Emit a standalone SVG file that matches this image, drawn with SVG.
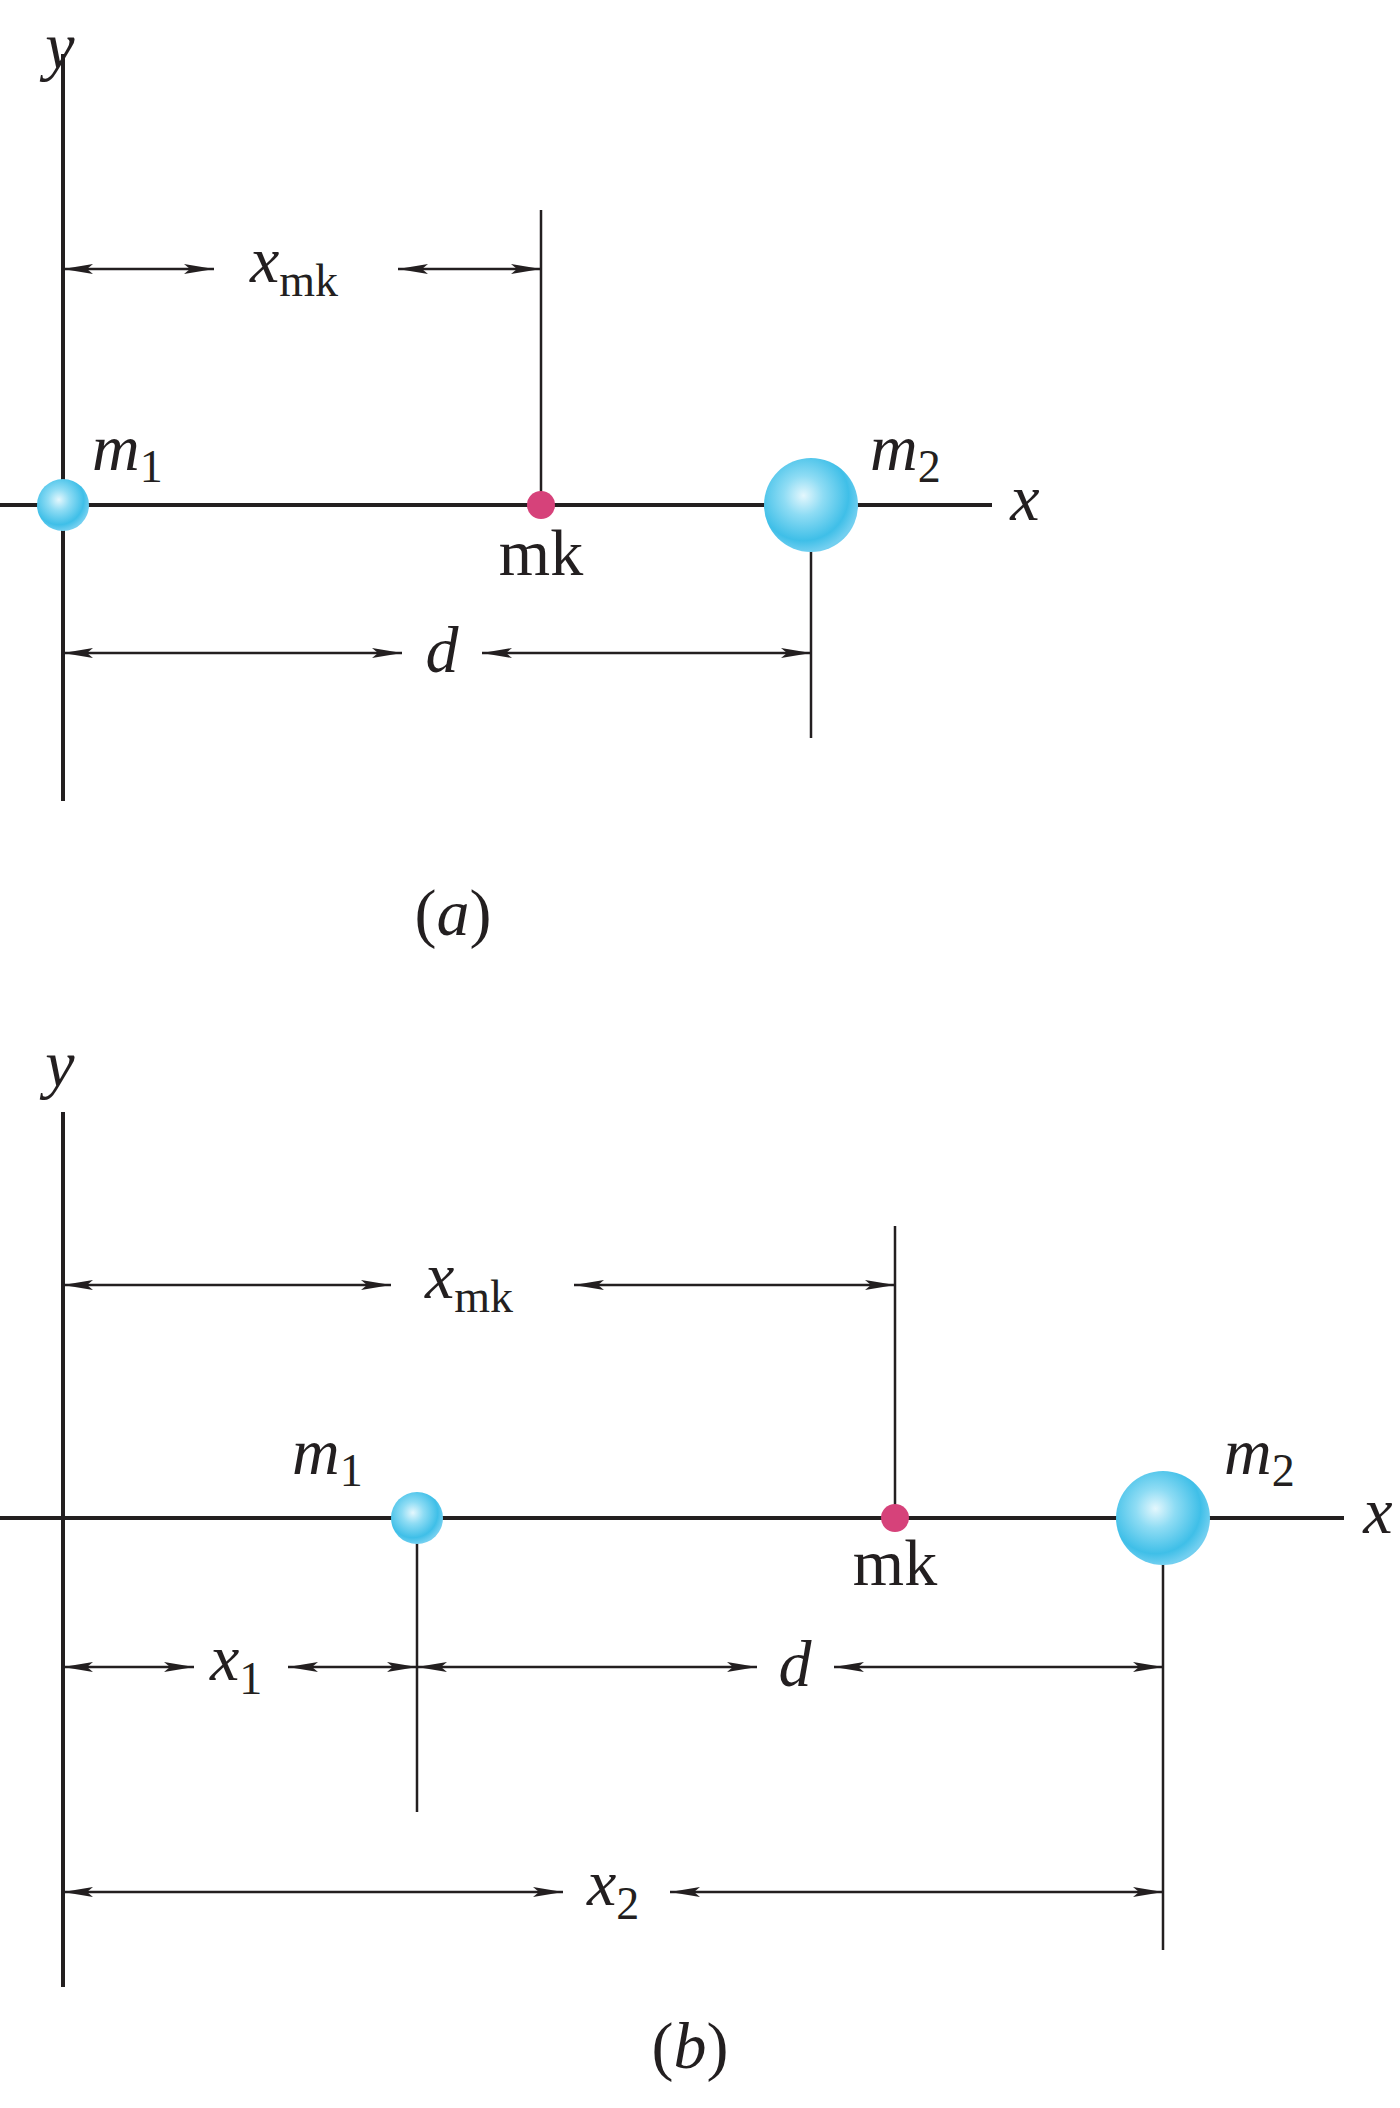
<svg xmlns="http://www.w3.org/2000/svg" width="1400" height="2108" viewBox="0 0 1400 2108">
<style>
.ax{stroke:#231f20;stroke-width:4;fill:none}
.th{stroke:#231f20;stroke-width:2.5;fill:none}
.dim{stroke:#231f20;stroke-width:2.5;fill:none;marker-start:url(#ah);marker-end:url(#ah)}
.t{font-family:"Liberation Serif",serif;font-size:66px;fill:#231f20}
.i{font-style:italic}
.s{font-size:46px;font-style:normal}
.dot{fill:#d6427a}
.sph{fill:url(#g)}
</style>
<defs>
<radialGradient id="g" cx="0.42" cy="0.4" r="0.6">
<stop offset="0" stop-color="#e4f7fd"/>
<stop offset="0.35" stop-color="#8edcf4"/>
<stop offset="0.8" stop-color="#3fbfe8"/>
<stop offset="1" stop-color="#72cff0"/>
</radialGradient>
<marker id="ah" viewBox="0 0 30 10" refX="30" refY="5" markerWidth="30" markerHeight="10" markerUnits="userSpaceOnUse" orient="auto-start-reverse">
<path d="M0,0 L30,5 L0,10 L6,5 Z" fill="#231f20"/>
</marker>
</defs>
<g id="connectors">
<line class="ax" x1="63" y1="54" x2="63" y2="801"/>
<line class="ax" x1="0" y1="505" x2="992" y2="505"/>
<line class="th" x1="541" y1="210" x2="541" y2="505"/>
<line class="th" x1="811" y1="505" x2="811" y2="738"/>
<path class="dim" d="M63,269 H214"/><path class="dim" d="M398,269 H541"/>
<path class="dim" d="M63,653 H402"/><path class="dim" d="M482,653 H811"/>
<line class="ax" x1="63" y1="1112" x2="63" y2="1987"/>
<line class="ax" x1="0" y1="1518" x2="1344" y2="1518"/>
<line class="th" x1="895" y1="1226" x2="895" y2="1518"/>
<line class="th" x1="417" y1="1518" x2="417" y2="1812"/>
<line class="th" x1="1163" y1="1518" x2="1163" y2="1950"/>
<path class="dim" d="M63,1285 H391"/><path class="dim" d="M574,1285 H895"/>
<path class="dim" d="M63,1667 H194"/><path class="dim" d="M288,1667 H417"/>
<path class="dim" d="M417,1667 H757"/><path class="dim" d="M834,1667 H1163"/>
<path class="dim" d="M63,1892 H563"/><path class="dim" d="M670,1892 H1163"/>
</g>
<g id="a-m1"><circle class="sph" cx="63" cy="505" r="26"/><text class="t i" x="92" y="470">m<tspan class="s" dy="12">1</tspan></text></g>
<g id="a-mk"><circle class="dot" cx="541" cy="505" r="14"/><text class="t" x="541" y="575" text-anchor="middle">mk</text></g>
<g id="a-m2"><circle class="sph" cx="811" cy="505" r="47"/><text class="t i" x="870" y="470">m<tspan class="s" dy="12">2</tspan></text></g>
<g id="a-labels">
<text class="t i" x="60" y="68" text-anchor="middle">y</text>
<text class="t i" x="1025" y="520" text-anchor="middle">x</text>
<text class="t i" x="250" y="282">x<tspan class="s" dy="14">mk</tspan></text>
<text class="t i" x="442" y="672" text-anchor="middle">d</text>
<text class="t" x="453" y="935" text-anchor="middle">(<tspan class="i">a</tspan>)</text>
</g>
<g id="b-m1"><circle class="sph" cx="417" cy="1518" r="26"/><text class="t i" x="292" y="1474">m<tspan class="s" dy="12">1</tspan></text></g>
<g id="b-mk"><circle class="dot" cx="895" cy="1518" r="14"/><text class="t" x="895" y="1585" text-anchor="middle">mk</text></g>
<g id="b-m2"><circle class="sph" cx="1163" cy="1518" r="47"/><text class="t i" x="1224" y="1474">m<tspan class="s" dy="12">2</tspan></text></g>
<g id="b-labels">
<text class="t i" x="60" y="1086" text-anchor="middle">y</text>
<text class="t i" x="1378" y="1533" text-anchor="middle">x</text>
<text class="t i" x="425" y="1298">x<tspan class="s" dy="14">mk</tspan></text>
<text class="t i" x="210" y="1680">x<tspan class="s" dy="14">1</tspan></text>
<text class="t i" x="795" y="1686" text-anchor="middle">d</text>
<text class="t i" x="587" y="1905">x<tspan class="s" dy="14">2</tspan></text>
<text class="t" x="690" y="2068" text-anchor="middle">(<tspan class="i">b</tspan>)</text>
</g>
</svg>
